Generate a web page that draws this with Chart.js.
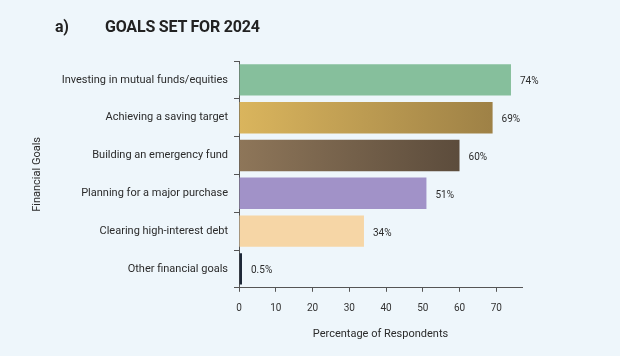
<!DOCTYPE html>
<html><head><meta charset="utf-8">
<script src="https://cdn.jsdelivr.net/npm/chart.js@4/dist/chart.umd.min.js"></script>
<style>
html,body{margin:0;padding:0;background:#eef6fb;}
#wrap{position:relative;width:620px;height:356px;background:#eef6fb;}
#title{position:absolute;left:55px;top:17px;font:700 16px Roboto,sans-serif;color:#222;letter-spacing:-0.2px;}
#title span{display:inline-block;width:50px;}
canvas{position:absolute;left:0;top:0;}
</style></head>
<body><div id="wrap"><canvas id="c" width="620" height="356"></canvas>
<div id="title"><span>a)</span>GOALS SET FOR 2024</div></div>
<script>
const categories = ["Investing in mutual funds/equities","Achieving a saving target","Building an emergency fund","Planning for a major purchase","Clearing high-interest debt","Other financial goals"];
const values = [74, 69, 60, 51, 34, 0.5];
const valueLabels = ["74%","69%","60%","51%","34%","0.5%"];
const xTicks = [0,10,20,30,40,50,60,70];

const solid = ["#86bf9c", null, null, "#a192c8", "#f6d6a6", "#1e2838"];
const grads = [null, ["#dab55d","#9e8146"], ["#8e7659","#5c4c3c"], null, null, null];

function bg(ctx){
  const i = ctx.dataIndex;
  if (solid[i]) return solid[i];
  const chart = ctx.chart, ca = chart.chartArea;
  if (!ca) return grads[i][0];
  const x0 = chart.scales.x.getPixelForValue(0);
  const x1 = chart.scales.x.getPixelForValue(values[i]);
  const g = chart.ctx.createLinearGradient(x0,0,x1,0);
  g.addColorStop(0, grads[i][0]); g.addColorStop(1, grads[i][1]);
  return g;
}

const labelPlugin = {
  id:'vals',
  afterDatasetsDraw(chart){
    const c = chart.ctx, meta = chart.getDatasetMeta(0);
    c.save();
    c.font = '10px Roboto, sans-serif';
    c.fillStyle = '#2b2b2b';
    c.textBaseline = 'middle';
    c.textAlign = 'left';
    meta.data.forEach((bar,i)=>{
      c.fillText(valueLabels[i], bar.x + 9, bar.y + 2);
    });
    c.restore();
  }
};

new Chart(document.getElementById('c'), {
  type:'bar',
  data:{labels:categories, datasets:[{data:values, backgroundColor:bg, barPercentage:0.83, categoryPercentage:1, minBarLength:3}]},
  options:{
    indexAxis:'y', responsive:false, animation:false,
    layout:{padding:{top:61,right:98,bottom:0,left:0}},
    plugins:{legend:{display:false}, tooltip:{enabled:false}},
    scales:{
      x:{min:0,max:77,
        afterBuildTicks(s){ s.ticks = xTicks.map(v=>({value:v})); },
        grid:{drawOnChartArea:false, tickLength:4, color:'#555'},
        border:{color:'#555', width:1},
        ticks:{font:{family:'Roboto',size:10}, color:'#333', padding:11},
        title:{display:true, text:'Percentage of Respondents', font:{family:'Roboto',size:11}, color:'#2b2b2b', padding:{top:2,bottom:15}}
      },
      y:{
        afterFit(s){ s.width = 239; },
        grid:{drawOnChartArea:false, tickLength:5, color:'#555'},
        border:{color:'#555', width:1},
        ticks:{font:{family:'Roboto',size:11}, color:'#2b2b2b', padding:6},
        title:{display:true, text:'Financial Goals', font:{family:'Roboto',size:11}, color:'#2b2b2b', padding:{top:31,bottom:0}}
      }
    }
  },
  plugins:[labelPlugin]
});
</script></body></html>
